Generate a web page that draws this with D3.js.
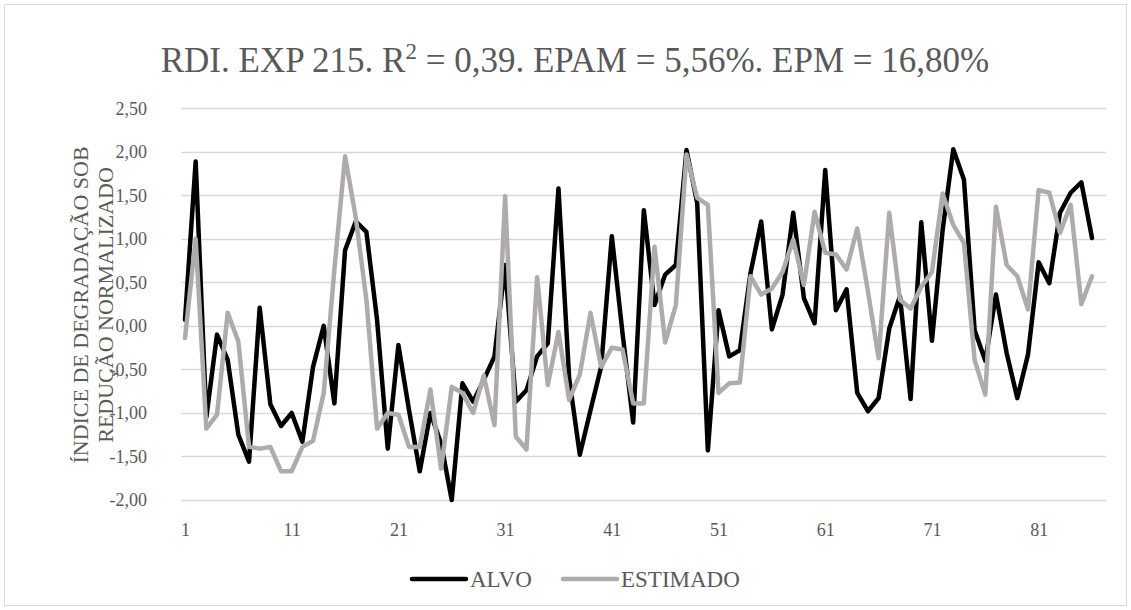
<!DOCTYPE html>
<html>
<head>
<meta charset="utf-8">
<script src="https://cdn.jsdelivr.net/npm/d3@7"></script>
<style>
  html, body { margin: 0; padding: 0; background: #ffffff; }
  svg { display: block; }
</style>
</head>
<body>
<div id="chart"></div>
<script>
const categories = d3.range(1, 87);
const alvo = [
  0.07, 1.89, -1.05, -0.10, -0.39, -1.25, -1.56, 0.21, -0.90, -1.15,
  -1.00, -1.33, -0.47, 0.00, -0.89, 0.87, 1.20, 1.08, 0.07, -1.41,
  -0.22, -0.97, -1.67, -1.00, -1.35, -2.00, -0.66, -0.87, -0.62, -0.35,
  0.70, -0.87, -0.74, -0.35, -0.20, 1.58, -0.60, -1.48, -0.97, -0.47,
  1.03, -0.08, -1.11, 1.33, 0.24, 0.59, 0.70, 2.02, 1.41, -1.43,
  0.18, -0.35, -0.28, 0.61, 1.20, -0.04, 0.36, 1.30, 0.32, 0.03,
  1.79, 0.18, 0.42, -0.77, -0.98, -0.83, -0.03, 0.34, -0.84, 1.19,
  -0.17, 1.10, 2.03, 1.68, -0.05, -0.40, 0.36, -0.31, -0.83, -0.33,
  0.73, 0.49, 1.30, 1.53, 1.65, 1.01
];
const estimado = [
  -0.14, 1.00, -1.18, -1.02, 0.15, -0.18, -1.39, -1.41, -1.39, -1.67,
  -1.67, -1.39, -1.32, -0.77, 0.65, 1.95, 1.25, 0.30, -1.18, -1.00,
  -1.02, -1.39, -1.39, -0.73, -1.64, -0.70, -0.77, -1.00, -0.57, -1.14,
  1.49, -1.27, -1.42, 0.56, -0.68, -0.07, -0.85, -0.56, 0.15, -0.47,
  -0.25, -0.27, -0.89, -0.89, 0.91, -0.19, 0.24, 1.97, 1.47, 1.39,
  -0.77, -0.66, -0.65, 0.57, 0.36, 0.43, 0.62, 0.99, 0.47, 1.31,
  0.84, 0.82, 0.65, 1.12, 0.40, -0.37, 1.30, 0.30, 0.20, 0.45,
  0.62, 1.52, 1.16, 0.95, -0.39, -0.79, 1.37, 0.70, 0.57, 0.19,
  1.56, 1.53, 1.07, 1.39, 0.25, 0.57
];
const yTicks = [2.5, 2.0, 1.5, 1.0, 0.5, 0.0, -0.5, -1.0, -1.5, -2.0];
const xTicks = [1, 11, 21, 31, 41, 51, 61, 71, 81];
const seriesNames = ["ALVO", "ESTIMADO"];
const seriesColors = ["#000000", "#afabab"];
const titleParts = ["RDI. EXP 215. R", "2", " = 0,39. EPAM = 5,56%. EPM = 16,80%"];
const yTitleLines = ["ÍNDICE DE DEGRADAÇÃO SOB", "REDUÇÃO NORMALIZADO"];

const W = 1131, H = 610;
const svg = d3.select("#chart").append("svg").attr("width", W).attr("height", H);
const font = "Liberation Serif, Times New Roman, serif";
const txt = "#595959";

svg.append("rect").attr("x", 4.5).attr("y", 4.5).attr("width", W - 9).attr("height", H - 9)
  .attr("fill", "#fff").attr("stroke", "#d9d9d9").attr("stroke-width", 1);

const gridL = 181, gridR = 1106;
const x = d3.scaleLinear().domain([1, 86]).range([185, 1092]);
const y = d3.scaleLinear().domain([-2, 2.5]).range([500, 108.3]);

// gridlines
svg.append("g").selectAll("line").data(yTicks).join("line")
  .attr("x1", gridL).attr("x2", gridR)
  .attr("y1", d => Math.round(y(d)) + 0.5).attr("y2", d => Math.round(y(d)) + 0.5)
  .attr("stroke", "#d9d9d9").attr("stroke-width", 1.3);

// y axis labels
const fmt = d => d3.format(".2f")(d).replace(".", ",").replace("−", "-");
const yAxis = d3.axisLeft(y).tickValues(yTicks).tickFormat(fmt).tickSize(0).tickPadding(0);
const gy = svg.append("g").attr("transform", "translate(147,0)").call(yAxis);
gy.select(".domain").remove();
gy.selectAll("text").attr("font-family", font).attr("font-size", 18).attr("fill", txt).attr("dy", "0.32em");

// x axis labels
const xAxis = d3.axisBottom(x).tickValues(xTicks).tickFormat(d => d).tickSize(0).tickPadding(0);
const gx = svg.append("g").attr("transform", "translate(0,523)").call(xAxis);
gx.select(".domain").remove();
gx.selectAll("text").attr("font-family", font).attr("font-size", 18).attr("fill", txt).attr("dy", "0.71em");

// lines
const line = d3.line().x((d, i) => x(categories[i])).y(d => y(d));
[alvo, estimado].forEach((s, k) => {
  svg.append("path").datum(s).attr("d", line)
    .attr("fill", "none").attr("stroke", seriesColors[k]).attr("stroke-width", 4.5)
    .attr("stroke-linejoin", "round").attr("stroke-linecap", "round");
});

// title
const tt = svg.append("text").attr("x", 575).attr("y", 72).attr("text-anchor", "middle")
  .attr("font-family", font).attr("font-size", 35).attr("fill", txt);
tt.append("tspan").text(titleParts[0]);
tt.append("tspan").attr("font-size", 23).attr("dy", -13).text(titleParts[1]);
tt.append("tspan").attr("dy", 13).text(titleParts[2]);

// y title
const yt = svg.append("text").attr("transform", "translate(0,305) rotate(-90)")
  .attr("text-anchor", "middle").attr("font-family", font).attr("font-size", 22).attr("fill", txt);
yTitleLines.forEach((t, i) => {
  yt.append("tspan").attr("x", 0).attr("y", 88 + i * 25).text(t);
});

// legend
const legX = [412, 563];
seriesNames.forEach((n, k) => {
  const g = svg.append("g");
  g.append("line").attr("x1", legX[k]).attr("x2", legX[k] + 54).attr("y1", 579).attr("y2", 579)
    .attr("stroke", seriesColors[k]).attr("stroke-width", 4.5).attr("stroke-linecap", "round");
  g.append("text").attr("x", legX[k] + 58).attr("y", 587).attr("font-family", font)
    .attr("font-size", 23).attr("fill", txt).text(n);
});
</script>
</body>
</html>
